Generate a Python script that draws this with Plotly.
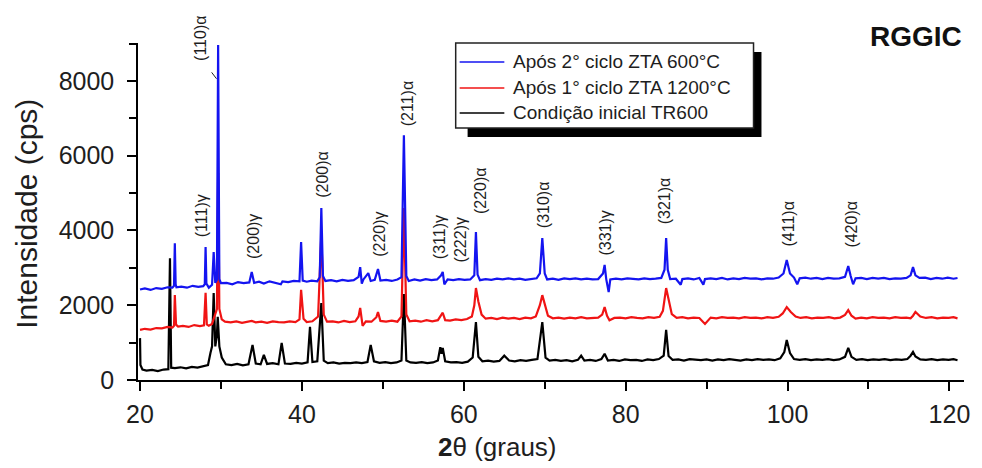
import plotly.graph_objects as go

# ---- XRD patterns, 2θ (deg) vs intensity (cps) ----
blue_x = [20.0, 20.6, 21.3, 22.0, 22.7, 23.4, 24.0, 24.2, 24.3, 24.4, 24.5, 25.1, 25.8, 26.5, 27.2, 27.8,
          28.0, 28.1, 28.2, 28.5, 28.9, 29.1, 29.3, 29.5, 29.65, 29.8, 30.0, 30.7, 31.4, 32.1, 32.8, 33.5,
          33.8, 34.1, 34.7, 35.3, 36.0, 36.7, 37.4, 37.6, 38.3, 39.0, 39.7, 39.9, 40.1, 40.6, 41.2, 41.9,
          42.2, 42.4, 42.6, 42.9, 43.6, 44.3, 45.0, 45.7, 46.4, 47.0, 47.2, 47.4, 47.6, 48.2, 48.5, 49.0,
          49.4, 49.7, 50.4, 51.1, 51.8, 52.3, 52.6, 52.9, 53.2, 53.9, 54.6, 55.3, 56.0, 56.7, 57.2, 57.4,
          57.6, 58.0, 58.7, 59.4, 60.1, 60.8, 61.3, 61.5, 61.7, 62.0, 62.7, 63.4, 64.1, 64.8, 65.5, 66.2,
          66.9, 67.6, 68.3, 69.0, 69.4, 69.7, 70.0, 70.3, 71.0, 71.7, 72.4, 73.1, 73.8, 74.5, 75.2, 75.9,
          76.6, 77.2, 77.4, 77.6, 77.9, 78.1, 78.8, 79.5, 80.2, 80.9, 81.6, 82.3, 83.0, 83.7, 84.4, 84.8,
          85.0, 85.2, 85.5, 86.2, 86.8, 87.0, 87.7, 88.4, 89.1, 89.6, 89.8, 90.5, 91.2, 91.9, 92.6, 93.3,
          94.0, 94.7, 95.4, 96.1, 96.8, 97.5, 98.2, 98.9, 99.5, 99.9, 100.3, 100.8, 101.2, 101.5, 102.2,
          102.9, 103.6, 104.3, 105.0, 105.7, 106.4, 107.1, 107.5, 107.8, 108.1, 108.4, 109.1, 109.8, 110.5,
          111.2, 111.9, 112.6, 113.3, 114.0, 114.7, 115.2, 115.5, 115.8, 116.3, 117.0, 117.7, 118.4, 119.1,
          119.8, 120.5, 121.0]
blue_y = [2420, 2450, 2410, 2460, 2440, 2480, 2470, 2520, 3660, 2560, 2480, 2500, 2470, 2520, 2490, 2510,
          2560, 3560, 2580, 2470, 2550, 3420, 2600, 2680, 8960, 2700, 2590, 2600, 2560, 2620, 2590, 2610,
          2890, 2600, 2630, 2580, 2640, 2610, 2560, 2640, 2620, 2650, 2640, 3690, 2660, 2630, 2660, 2640,
          2750, 4600, 2780, 2650, 2670, 2640, 2680, 2650, 2670, 2760, 3020, 2580, 2690, 2860, 2650, 2680,
          2970, 2660, 2680, 2650, 2690, 2750, 6550, 2780, 2650, 2690, 2660, 2700, 2670, 2690, 2800, 2890,
          2560, 2690, 2670, 2700, 2680, 2690, 2800, 3960, 2820, 2670, 2700, 2680, 2710, 2690, 2720, 2690,
          2710, 2680, 2700, 2720, 2850, 3800, 2850, 2690, 2710, 2680, 2720, 2700, 2720, 2690, 2710, 2690,
          2700, 2850, 3080, 2700, 2350, 2690, 2710, 2690, 2720, 2700, 2690, 2720, 2700, 2710, 2730, 2950,
          3800, 2950, 2700, 2710, 2550, 2700, 2720, 2690, 2730, 2550, 2700, 2720, 2700, 2730, 2690, 2720,
          2700, 2730, 2710, 2720, 2690, 2720, 2710, 2740, 2850, 3210, 2850, 2740, 2560, 2720, 2740,
          2710, 2730, 2700, 2730, 2710, 2720, 2760, 3050, 2780, 2560, 2720, 2730, 2700, 2730,
          2710, 2730, 2700, 2720, 2710, 2730, 2800, 3020, 2800, 2730, 2740, 2700, 2730, 2710,
          2740, 2710, 2730]

red_x = [20.0, 20.6, 21.3, 22.0, 22.7, 23.4, 24.0, 24.2, 24.3, 24.45, 24.7, 25.3, 26.0, 26.7, 27.4, 27.9,
         28.1, 28.25, 28.5, 28.9, 29.2, 29.5, 29.65, 29.8, 30.1, 30.5, 31.2, 31.9, 32.6, 33.3, 33.8, 34.3,
         35.0, 35.7, 36.4, 37.1, 37.8, 38.5, 39.2, 39.7, 39.9, 40.2, 40.6, 41.3, 42.0, 42.4, 42.7, 43.1,
         43.8, 44.5, 45.2, 45.9, 46.6, 47.0, 47.2, 47.5, 47.9, 48.6, 49.2, 49.4, 49.7, 50.4, 51.1, 51.8,
         52.3, 52.6, 52.9, 53.3, 54.0, 54.7, 55.4, 56.1, 56.8, 57.4, 57.7, 58.3, 59.0, 59.7, 60.4, 61.0,
         61.3, 61.5, 61.8, 62.2, 62.7, 63.4, 64.1, 64.8, 65.5, 66.2, 66.9, 67.6, 68.3, 68.9, 69.4, 69.7,
         70.0, 70.4, 71.0, 71.7, 72.4, 73.1, 73.8, 74.5, 75.2, 75.9, 76.6, 77.1, 77.4, 77.7, 78.0, 78.6,
         79.3, 80.0, 80.7, 81.4, 82.1, 82.8, 83.5, 84.2, 84.6, 85.0, 85.3, 85.7, 86.3, 87.0, 87.7, 88.4,
         89.1, 89.8, 90.5, 91.2, 91.9, 92.6, 93.3, 94.0, 94.7, 95.4, 96.1, 96.8, 97.5, 98.2, 98.9, 99.4,
         99.9, 100.4, 101.0, 101.6, 102.3, 103.0, 103.7, 104.4, 105.1, 105.8, 106.5, 107.1, 107.5, 107.9,
         108.4, 109.1, 109.8, 110.5, 111.2, 111.9, 112.6, 113.3, 114.0, 114.7, 115.2, 115.5, 115.8, 116.4,
         117.1, 117.8, 118.5, 119.2, 119.9, 120.5, 121.0]
red_y = [1340, 1370, 1350, 1390, 1380, 1420, 1400, 1450, 2270, 1480, 1430, 1450, 1420, 1470, 1440, 1460,
         2330, 1490, 1450, 1500, 1700, 1900, 5540, 1900, 1620, 1560, 1540, 1570, 1530, 1560, 1580, 1540,
         1560, 1530, 1570, 1550, 1540, 1570, 1550, 1620, 2410, 1640, 1550, 1570, 1700, 3900, 1750, 1560,
         1570, 1540, 1580, 1550, 1570, 1700, 1930, 1450, 1570, 1560, 1680, 1820, 1580, 1560, 1590, 1560,
         1700, 4600, 1750, 1570, 1590, 1560, 1600, 1570, 1600, 1800, 1600, 1590, 1620, 1600, 1630, 1700,
         2000, 2460, 2100, 1750, 1640, 1660, 1630, 1670, 1640, 1660, 1630, 1670, 1650, 1700, 2000, 2270,
         2050, 1720, 1650, 1670, 1640, 1670, 1650, 1680, 1650, 1660, 1670, 1750, 1950, 1720, 1600, 1660,
         1670, 1650, 1680, 1660, 1650, 1680, 1660, 1690, 1850, 2460, 2150, 1760, 1660, 1680, 1650, 1670,
         1660, 1500, 1670, 1650, 1680, 1660, 1670, 1650, 1680, 1660, 1670, 1650, 1680, 1660, 1690, 1780,
         1950, 1820, 1700, 1660, 1680, 1650, 1670, 1660, 1680, 1650, 1670, 1740, 1870, 1720, 1640, 1670,
         1650, 1680, 1660, 1670, 1650, 1680, 1660, 1670, 1650, 1720, 1820, 1700, 1660, 1680,
         1650, 1670, 1660, 1680, 1650, 1670, 1660]

black_x = [20.0, 20.05, 20.3, 20.8, 21.5, 22.2, 22.9, 23.5, 23.7, 23.85, 24.3, 25.0, 25.7, 26.4, 27.1, 27.8,
           28.4, 28.7, 28.9, 29.1, 29.3, 29.5, 29.6, 29.8, 30.1, 30.6, 31.3, 32.0, 32.7, 33.4, 33.9, 34.3,
           34.9, 35.3, 35.7, 36.4, 37.1, 37.5, 37.9, 38.6, 39.3, 40.0, 40.7, 41.0, 41.3, 41.9, 42.4, 42.7,
           43.2, 43.9, 44.6, 45.3, 46.0, 46.7, 47.4, 48.1, 48.5, 48.9, 49.6, 50.3, 51.0, 51.7, 52.3, 52.6,
           52.9, 53.4, 54.1, 54.8, 55.5, 56.2, 56.8, 57.1, 57.25, 57.4, 57.7, 58.4, 59.1, 59.8, 60.5, 61.1,
           61.5, 61.8, 62.3, 63.0, 63.7, 64.4, 65.0, 65.6, 66.3, 67.0, 67.7, 68.4, 69.1, 69.7, 70.1, 70.6,
           71.3, 72.0, 72.7, 73.4, 74.1, 74.5, 74.9, 75.6, 76.3, 77.0, 77.4, 77.8, 78.5, 79.2, 79.9, 80.6,
           81.3, 82.0, 82.7, 83.4, 84.1, 84.7, 85.0, 85.3, 85.8, 86.5, 87.2, 87.9, 88.6, 89.3, 90.0, 90.7,
           91.4, 92.1, 92.8, 93.5, 94.2, 94.9, 95.6, 96.3, 97.0, 97.7, 98.4, 99.1, 99.6, 99.9, 100.3, 100.8,
           101.5, 102.2, 102.9, 103.6, 104.3, 105.0, 105.7, 106.4, 107.1, 107.5, 107.9, 108.5, 109.2, 109.9,
           110.6, 111.3, 112.0, 112.7, 113.4, 114.1, 114.8, 115.2, 115.5, 115.8, 116.4, 117.1, 117.8, 118.5,
           119.2, 119.9, 120.5, 121.0]
black_y = [1120, 400, 280, 250, 270, 240, 280, 290, 3260, 330, 320, 340, 310, 350, 330, 360,
           400, 720, 900, 2330, 900, 1200, 1690, 900, 600, 420, 400, 430, 390, 420, 940, 440,
           420, 670, 430, 450, 420, 990, 440, 430, 460, 440, 470, 1420, 480, 500, 2060, 520, 450,
           470, 440, 460, 450, 470, 450, 480, 940, 500, 460, 480, 450, 470, 520, 2300, 520,
           470, 460, 480, 450, 470, 520, 880, 700, 860, 500, 470, 480, 460, 490, 600,
           1550, 620, 500, 520, 490, 510, 650, 520, 500, 530, 510, 540, 560, 1550, 600, 520,
           540, 510, 530, 500, 540, 650, 520, 540, 510, 560, 700, 520, 540, 510, 550, 530,
           540, 510, 550, 530, 560, 650, 1340, 640, 540, 550, 520, 560, 540, 530, 550, 520,
           550, 530, 560, 540, 520, 550, 530, 560, 540, 550, 530, 580, 750, 1070, 720, 560,
           540, 560, 530, 550, 540, 560, 530, 550, 620, 860, 620, 540, 560, 530,
           550, 540, 560, 530, 550, 540, 560, 650, 750, 630, 550, 540, 560, 530,
           550, 540, 560, 530]

series_names = ["Após 2° ciclo ZTA 600°C", "Após 1° ciclo ZTA 1200°C", "Condição inicial TR600"]
series_colors = ["#1414f0", "#f01414", "#000000"]

# Reflection labels: (text, 2θ, intensity at label centre)
peak_labels = ["(111)γ", "(200)γ", "(200)α", "(220)γ", "(211)α", "(311)γ", "(222)γ",
               "(220)α", "(310)α", "(331)γ", "(321)α", "(411)α", "(420)α"]
peak_label_x = [27.7, 34.1, 42.45, 49.6, 53.0, 57.1, 59.6, 62.0, 69.8, 77.5, 84.9, 100.1, 107.9]
peak_label_y = [4390, 3830, 5510, 3900, 7380, 3830, 3750, 5080, 4680, 3930, 4790, 4170, 4170]
top_label, top_label_x = "(110)α", 27.4   # sits above the frame, next to the strongest peak

X_RANGE = [19.75, 121.8]
Y_RANGE = [0, 9016]

W, H = 982, 468
M_L, M_R, M_T, M_B = 138, 12, 43, 88
PW, PH = W - M_L - M_R, H - M_T - M_B


def px_x(p):
    return (p - M_L) / PW


def px_y(p):
    return (H - M_B - p) / PH


FONT = "Liberation Sans, Arial, sans-serif"
TXT = "#1e1e1e"

fig = go.Figure()
# drawn black first so the blue pattern sits on top
for xs, ys, name, col in [(black_x, black_y, series_names[2], series_colors[2]),
                          (red_x, red_y, series_names[1], series_colors[1]),
                          (blue_x, blue_y, series_names[0], series_colors[0])]:
    fig.add_trace(go.Scatter(x=xs, y=ys, mode="lines", name=name, showlegend=False,
                             line=dict(color=col, width=2.2)))

annotations = []
for t, x, y in zip(peak_labels, peak_label_x, peak_label_y):
    annotations.append(dict(x=x, y=y, xref="x", yref="y", text=t, showarrow=False, textangle=-90,
                            xanchor="center", yanchor="middle",
                            font=dict(family=FONT, size=16, color=TXT)))
annotations.append(dict(x=top_label_x, y=px_y(38), xref="x", yref="paper", text=top_label,
                        showarrow=False, textangle=-90, xanchor="center", yanchor="middle",
                        font=dict(family=FONT, size=16, color=TXT)))

shapes = [
    # leader from (110)α label to its peak
    dict(type="line", xref="x", yref="y", x0=28.85, y0=8230, x1=29.45, y1=8060,
         line=dict(color=TXT, width=1)),
    # legend shadow and frame
    dict(type="rect", xref="paper", yref="paper", x0=px_x(470), x1=px_x(766), y0=px_y(137), y1=px_y(52),
         fillcolor="black", line=dict(width=0), layer="above"),
    dict(type="rect", xref="paper", yref="paper", x0=px_x(458), x1=px_x(758), y0=px_y(128), y1=px_y(43),
         fillcolor="white", line=dict(color="#222", width=1.5), layer="above"),
]
legend_rows = [62, 88, 113]
for name, col, ry in zip(series_names, series_colors, legend_rows):
    shapes.append(dict(type="line", xref="paper", yref="paper", x0=px_x(462), x1=px_x(507),
                       y0=px_y(ry), y1=px_y(ry), line=dict(color=col, width=1.5), layer="above"))
    annotations.append(dict(x=px_x(514), y=px_y(ry), xref="paper", yref="paper", text=name,
                            showarrow=False, xanchor="left", yanchor="middle",
                            font=dict(family=FONT, size=19, color=TXT)))

annotations.append(dict(x=px_x(922), y=px_y(36), xref="paper", yref="paper", text="<b>RGGIC</b>",
                        showarrow=False, xanchor="center", yanchor="middle",
                        font=dict(family=FONT, size=28, color="#111")))
# axis titles
annotations.append(dict(x=px_x(500), y=px_y(447), xref="paper", yref="paper", text="<b>2</b>θ (graus)",
                        showarrow=False, xanchor="center", yanchor="middle",
                        font=dict(family=FONT, size=26, color=TXT)))
annotations.append(dict(x=px_x(25), y=px_y(214), xref="paper", yref="paper", text="Intensidade (cps)",
                        showarrow=False, textangle=-90, xanchor="center", yanchor="middle",
                        font=dict(family=FONT, size=30, color=TXT)))

fig.update_layout(
    width=W, height=H,
    margin=dict(l=M_L, r=M_R, t=M_T, b=M_B, pad=0),
    paper_bgcolor="white", plot_bgcolor="white",
    font=dict(family=FONT, color=TXT),
    shapes=shapes, annotations=annotations, showlegend=False,
    xaxis=dict(range=X_RANGE, showgrid=False, zeroline=False, showline=True, linecolor="black",
               linewidth=1.5, ticks="outside", ticklen=9, tickwidth=1.5, tickcolor="black",
               tickvals=[20, 40, 60, 80, 100, 120], tickfont=dict(size=25, color=TXT),
               ticklabelstandoff=2,
               minor=dict(tickvals=[30, 50, 70, 90, 110], ticklen=7, tickwidth=1.5, tickcolor="black", ticks="outside")),
    yaxis=dict(range=Y_RANGE, showgrid=False, zeroline=False, showline=True, linecolor="black",
               linewidth=1.5, ticks="outside", ticklen=9, tickwidth=1.5, tickcolor="black",
               tickvals=[0, 2000, 4000, 6000, 8000], tickfont=dict(size=25, color=TXT),
               ticklabelstandoff=8,
               minor=dict(tickvals=[1000, 3000, 5000, 7000, 9000], ticklen=7, tickwidth=1.5, tickcolor="black", ticks="outside")),
)

fig.write_html("out.html")
